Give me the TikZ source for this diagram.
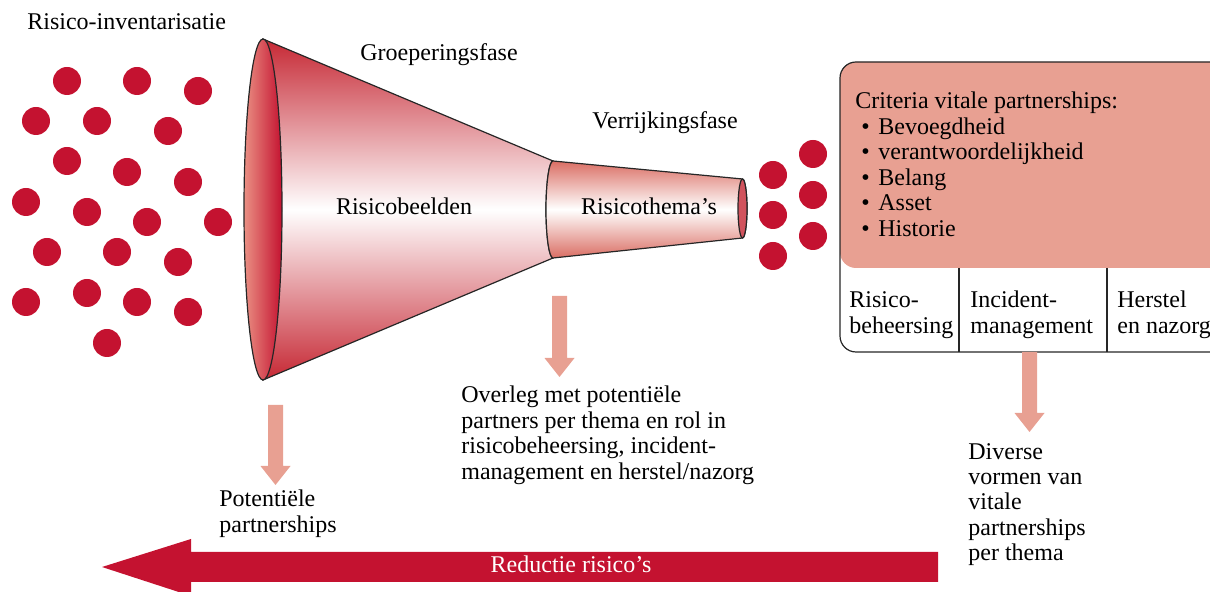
\documentclass[tikz,border=0pt]{standalone}
\usepackage{fontspec}
\setmainfont{Liberation Serif}
\definecolor{dotred}{RGB}{196,18,48}
\definecolor{salmon}{RGB}{232,160,146}
\definecolor{conered}{RGB}{198,40,52}
\definecolor{ringred}{RGB}{218,110,100}
\newcommand{\critem}[1]{\makebox[11.5pt][l]{\hspace{3pt}\textbullet}#1}
\tikzset{
  lbl/.style={anchor=base west, inner sep=0pt, align=left,
    font=\fontsize{12pt}{12.75pt}\selectfont},
  outline/.style={line width=0.6pt, black!85},
  pointer/.style={fill=salmon},
}
\begin{document}
\begin{tikzpicture}[x=0.5pt, y=-0.5pt]
	\clip (0,0) rectangle (1210,592);
	% scattered risks
	\foreach \px/\py in {67/81, 137/81, 198/91, 36/121, 97/121, 168/131, 67/161, 127/172,
		188/182, 26/202, 87/212, 147/222, 218/222, 47/252, 117/252, 178/262,
		26/302, 87/293, 137/302, 188/312, 107/343}
		\fill[dotred] (\px,\py) circle[radius=14];
	\foreach \px/\py in {813/154, 773/175, 813/195, 773/215, 813/236, 773/256}
		\fill[dotred] (\px,\py) circle[radius=14];
	% funnel
	\draw[outline, top color=conered, bottom color=conered, middle color=white]
		(263,39) -- (553,161) arc[start angle=270, end angle=90, x radius=7, y radius=48.5]
		-- (263,380) -- cycle;
	\draw[outline, top color=ringred, bottom color=ringred, middle color=white]
		(553,161) -- (742.5,179) arc[start angle=270, end angle=450, x radius=4.5, y radius=29.5]
		-- (553,258) arc[start angle=90, end angle=270, x radius=7, y radius=48.5] -- cycle;
	\draw[outline, left color=salmon!90!red, right color=dotred]
		(263,209.5) ellipse[x radius=19, y radius=170.5];
	\draw[outline, fill=conered!80!white] (742.5,208.5) ellipse[x radius=4.5, y radius=29.5];
	% criteria box
	\fill[salmon, rounded corners=8pt] (840,268) -- (840,62) -- (1240,62) -- (1240,268) -- cycle;
	\draw[outline, rounded corners=8pt] (1240,352) -- (840,352) -- (840,62) -- (1240,62);
	\draw[outline] (959,268) -- (959,352) (1107,268) -- (1107,352);
	% arrows down
	\foreach \ax/\atop/\atip in {275.5/405/485, 559.5/296/377, 1029.5/352/432}
		\fill[pointer] (\ax-7.5,\atop) -- (\ax+7.5,\atop) -- (\ax+7.5,\atip-19) -- (\ax+15,\atip-19)
			-- (\ax,\atip) -- (\ax-15,\atip-19) -- (\ax-7.5,\atip-19) -- cycle;
	% reduction arrow
	\fill[dotred] (938,552) -- (191,552) -- (191,539) -- (102,567) -- (191,596) -- (191,582)
		-- (938,582) -- cycle;
	\node[lbl, anchor=base, text=white] (reductie) at (571,573) {Reductie risico’s};
	% labels (multi-line: base = last line)
	\node[lbl] (inventaris) at (27,30) {Risico-inventarisatie};
	\node[lbl] (groepering) at (360,61) {Groeperingsfase};
	\node[lbl] (verrijking) at (592,129) {Verrijkingsfase};
	\node[lbl, anchor=base] (beelden) at (404,215) {Risicobeelden};
	\node[lbl, anchor=base] (themas) at (649,215) {Risicothema’s};
	\node[lbl] (criteria) at (855,236.5) {Criteria vitale partnerships:\\
		\critem{Bevoegdheid}\\ \critem{verantwoordelijkheid}\\ \critem{Belang}\\
		\critem{Asset}\\ \critem{Historie}};
	\node[lbl] (beheersing) at (849,333.5) {Risico-\\beheersing};
	\node[lbl] (incident) at (970,333.5) {Incident-\\management};
	\node[lbl] (herstel) at (1117,333.5) {Herstel\\en nazorg};
	\node[lbl] (overleg) at (461,479.5) {Overleg met potentiële\\partners per thema en rol in\\
		risicobeheersing, incident-\\management en herstel/nazorg};
	\node[lbl] (potentieel) at (219,532.5) {Potentiële\\partnerships};
	\node[lbl] (vormen) at (968,561) {Diverse\\vormen van\\vitale\\partnerships\\per thema};
\end{tikzpicture}
\end{document}
